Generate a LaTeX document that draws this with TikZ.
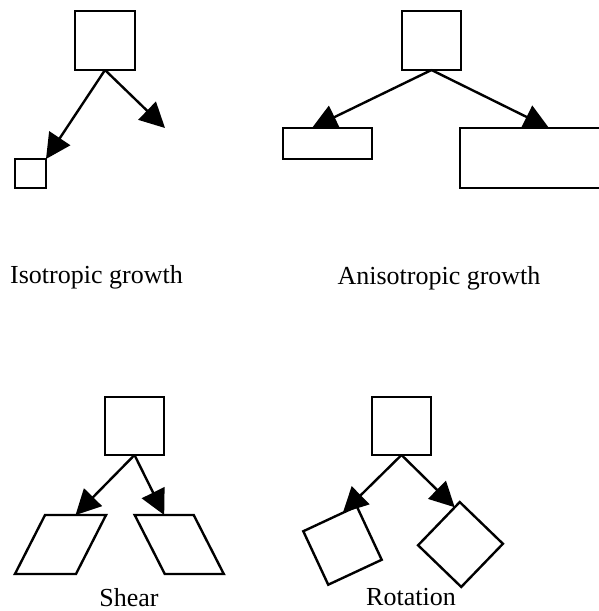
\documentclass[tikz,border=0pt]{standalone}
\usepackage{fontspec}
\setmainfont{Liberation Serif}
\usetikzlibrary{arrows.meta,calc}
\begin{document}
\begin{tikzpicture}[x=1pt,y=-1pt,
  box/.style={draw=black, line width=2.4pt, fill=white, inner sep=0pt, outer sep=0pt},
  conn/.style={line width=2.4pt, -{Triangle[length=25pt,width=25pt]}},
  lbl/.style={font=\fontsize{26}{30}\selectfont, anchor=base, inner sep=0pt}]
\clip (0,0) rectangle (599,611);
\useasboundingbox (0,0) rectangle (599,611);
% Isotropic growth
\node[box, minimum width=60pt, minimum height=59pt] (it) at (105,40.5) {};
\node[box, minimum width=31pt, minimum height=29pt] (is) at (30.5,173.5) {};
\coordinate (ie) at (165,128);
\draw[conn] (it.south) -- (is.north east);
\draw[conn] (it.south) -- (ie);
\node[lbl] (iso) at (96.5,283) {Isotropic growth};
% Anisotropic growth
\node[box, minimum width=59pt, minimum height=59pt] (at) at (431.5,40.5) {};
\node[box, minimum width=89pt, minimum height=31pt] (al) at (327.5,143.5) {};
\node[box, minimum width=160pt, minimum height=60pt] (ar) at (540,158) {};
\coordinate (ale) at ([xshift=29pt]al.north west);
\coordinate (are) at ([xshift=89pt]ar.north west);
\draw[conn] (at.south) -- (ale);
\draw[conn] (at.south) -- (are);
\node[lbl] (aniso) at (439,284) {Anisotropic growth};
% Shear
\node[box, minimum width=59pt, minimum height=58pt] (st) at (134.5,426) {};
\node[box, minimum width=61pt, minimum height=59pt, xslant=0.51] (sl) at (60.5,544.5) {};
\node[box, minimum width=59pt, minimum height=59pt, xslant=-0.51] (sr) at (179.25,544.5) {};
\draw[conn] (st.south) -- (sl.north);
\draw[conn] (st.south) -- (sr.north);
\node[lbl] (shear) at (129,606) {Shear};
% Rotation
\node[box, minimum width=59pt, minimum height=58pt] (rt) at (401.5,426) {};
\node[box, minimum size=59pt, rotate=25] (rl) at (342.5,545.5) {};
\node[box, minimum size=60pt, rotate=-44] (rr) at (460.5,544.5) {};
\coordinate (rle) at ($(rl.north west)!0.74!(rl.north east)$);
\coordinate (rre) at ($(rr.north west)!0.12!(rr.south west)$);
\draw[conn] (rt.south) -- (rle);
\draw[conn] (rt.south) -- (rre);
\node[lbl] (rot) at (411,605.5) {Rotation};
\end{tikzpicture}
\end{document}
